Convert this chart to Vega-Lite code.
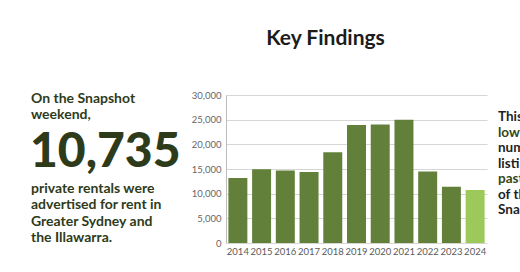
{
  "$schema": "https://vega.github.io/schema/vega-lite/v6.json",
  "padding": {"left": 30, "top": 28, "right": 0, "bottom": 0},
  "background": "#ffffff",
  "config": {"view": {"stroke": null}},
  "title": {"text": "Key Findings", "font": "Lato", "fontSize": 21, "fontWeight": "bold", "color": "#1c1c1c", "anchor": "middle", "dx": 50, "offset": 41},
  "datasets": {
    "left": [
      {"line": 1, "text": "On the Snapshot", "kind": "small"},
      {"line": 2, "text": "weekend,", "kind": "small"},
      {"line": 3, "text": "10,735", "kind": "big"},
      {"line": 4, "text": "private rentals were", "kind": "small"},
      {"line": 5, "text": "advertised for rent in", "kind": "small"},
      {"line": 6, "text": "Greater Sydney and", "kind": "small"},
      {"line": 7, "text": "the Illawarra.", "kind": "small"}
    ],
    "listings": [
      {"year": "2014", "listings": 13200, "current": false},
      {"year": "2015", "listings": 14950, "current": false},
      {"year": "2016", "listings": 14700, "current": false},
      {"year": "2017", "listings": 14400, "current": false},
      {"year": "2018", "listings": 18400, "current": false},
      {"year": "2019", "listings": 23900, "current": false},
      {"year": "2020", "listings": 24000, "current": false},
      {"year": "2021", "listings": 25000, "current": false},
      {"year": "2022", "listings": 14500, "current": false},
      {"year": "2023", "listings": 11400, "current": false},
      {"year": "2024", "listings": 10735, "current": true}
    ],
    "right": [
      {"line": 1, "text": "This is the", "accent": false},
      {"line": 2, "text": "lowest", "accent": true},
      {"line": 3, "text": "number of", "accent": false},
      {"line": 4, "text": "listings in the", "accent": false},
      {"line": 5, "text": "past decade", "accent": true},
      {"line": 6, "text": "of the", "accent": false},
      {"line": 7, "text": "Snapshot", "accent": false}
    ]
  },
  "hconcat": [
    {
      "width": 184,
      "height": 148,
      "data": {"name": "left"},
      "layer": [
        {
          "transform": [{"filter": "datum.kind == 'small'"}],
          "mark": {"type": "text", "align": "left", "baseline": "alphabetic", "font": "Lato", "fontSize": 14, "fontWeight": "bold", "color": "#2e3b1b"},
          "encoding": {
            "x": {"value": 0},
            "y": {"field": "line", "type": "quantitative", "scale": {"domain": [1, 2, 3, 4, 7], "range": [8, 24, 72, 98, 147]}, "axis": null},
            "text": {"field": "text"}
          }
        },
        {
          "transform": [{"filter": "datum.kind == 'big'"}],
          "mark": {"type": "text", "align": "left", "baseline": "alphabetic", "font": "Lato", "fontSize": 48, "fontWeight": 900, "color": "#2e3b1b"},
          "encoding": {
            "x": {"value": -1},
            "y": {"field": "line", "type": "quantitative", "scale": {"domain": [1, 2, 3, 4, 7], "range": [8, 24, 72, 98, 147]}, "axis": null},
            "text": {"field": "text"}
          }
        }
      ]
    },
    {
      "width": 261,
      "height": 148,
      "data": {"name": "listings"},
      "mark": {"type": "bar"},
      "encoding": {
        "x": {"field": "year", "type": "ordinal", "scale": {"paddingInner": 0.2, "paddingOuter": 0.1},
          "axis": {"title": null, "labelAngle": 0, "ticks": false, "domain": false, "labelFont": "Lato", "labelFontSize": 9.5, "labelColor": "#5a5a5a", "labelPadding": 3}},
        "y": {"field": "listings", "type": "quantitative", "scale": {"domain": [0, 30000]},
          "axis": {"title": null, "values": [0, 5000, 10000, 15000, 20000, 25000, 30000], "format": ",.0f", "ticks": false, "domainColor": "#bbbbbb", "gridColor": "#d6d6d6", "labelFont": "Lato", "labelFontSize": 9.5, "labelColor": "#666666", "labelPadding": 5}},
        "color": {"condition": {"test": "datum.current", "value": "#9dc95b"}, "value": "#62803a"}
      }
    },
    {
      "width": 23,
      "height": 148,
      "data": {"name": "right"},
      "mark": {"type": "text", "align": "left", "baseline": "alphabetic", "font": "Lato", "fontSize": 13.5, "fontWeight": "bold", "clip": true},
      "encoding": {
        "x": {"value": 0},
        "y": {"field": "line", "type": "quantitative", "scale": {"domain": [1, 7], "range": [26, 119]}, "axis": null},
        "text": {"field": "text"},
        "color": {"condition": {"test": "datum.accent", "value": "#33471a"}, "value": "#1f1f1f"}
      }
    }
  ],
  "spacing": 11,
  "bounds": "flush"
}
